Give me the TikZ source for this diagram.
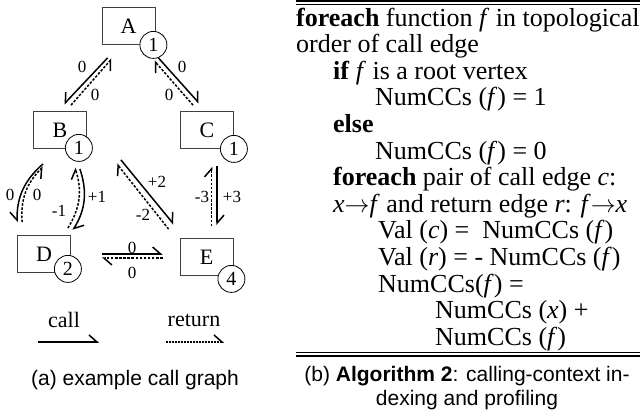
\documentclass[tikz,border=0pt]{standalone}
\usepackage{fontspec}
\setmainfont{Liberation Serif}
\setsansfont{Liberation Sans}
\usetikzlibrary{arrows.meta,calc}
\tikzset{harp/.tip={Straight Barb[harpoon,length=8pt,width=14pt]},
  harpsw/.tip={Straight Barb[harpoon,swap,length=8pt,width=14pt]}}

\begin{document}
\begin{tikzpicture}[x=1pt,y=-1pt,
  fn/.style={draw=black!75,line width=0.8pt,minimum width=53pt,minimum height=37pt,inner sep=0pt,font=\fontsize{22}{24}\selectfont},
  cnt/.style={circle,draw,fill=white,line width=0.8pt,minimum size=27pt,inner sep=0pt,font=\fontsize{20}{22}\selectfont},
  val/.style={inner sep=0pt,font=\fontsize{17}{19}\selectfont},
  calledge/.style={line width=1.5pt,-harp},
  retedge/.style={line width=1.5pt,dash pattern=on 2.5pt off 1.6pt,-harp},
  alg/.style={anchor=base west,inner sep=0pt,text height=18pt,text depth=5pt,font=\fontsize{26}{27}\selectfont},
  captext/.style={anchor=base,inner sep=0pt,font=\sffamily\fontsize{21}{24}\selectfont}]
\useasboundingbox (0,0) rectangle (640,416);

\foreach \n/\x/\y/\k/\dx/\dy in {A/128.5/26/1/-2/0,B/60/130/1/-8/-1,C/207/130/1/0/0,D/44/254/2/-3/-4,E/206.5/257/4/-2/3}{
  \node[fn] (\n) at (\x,\y) {\n};
  \node[cnt] (c\n) at ([shift={(\dx,\dy)}]\n.south east) {\k};
}

\draw[calledge,-harpsw] ([shift={(6,13)}]A.south west) -- ([shift={(4,-7)}]B.north);
\draw[retedge,-harpsw] ([shift={(11,-6)}]B.north) -- ([shift={(10,14)}]A.south west);
\draw[calledge] ([shift={(3,13)}]A.south east) -- ([shift={(-8,-8)}]C.north);
\draw[retedge] ([shift={(-14,-6)}]C.north) -- ([shift={(-1,16)}]A.south east);
\draw[calledge,-harpsw] ([shift={(10,15)}]B.south west) to[bend right=25] ([shift={(0,-13)}]D.north west);
\draw[retedge,-harpsw] ([shift={(5,-13)}]D.north west) to[bend left=25] ([shift={(10,18)}]B.south west);
\draw[calledge] ([shift={(-7,20)}]B.south east) to[bend left=25] ([shift={(2,-5)}]D.north east);
\draw[retedge] ([shift={(-3,-7)}]D.north east) to[bend right=25] ([shift={(-12,19)}]B.south east);
\draw[calledge] ([shift={(34,11)}]B.south east) -- ([shift={(-6,-14)}]E.north west);
\draw[retedge] ([shift={(-11,-9)}]E.north west) -- ([shift={(30,15)}]B.south east);
\draw[calledge] ([shift={(10,17)}]C.south) -- ([shift={(10.5,-13)}]E.north);
\draw[retedge] ([shift={(5,-12)}]E.north) -- ([shift={(4.5,18)}]C.south);
\draw[calledge] ([shift={(31,0)}]D.east) -- ([shift={(-17,-3)}]E.west);
\draw[retedge] ([shift={(-17,1)}]E.west) -- ([shift={(31,4)}]D.east);

\foreach \x/\y/\t [count=\i] in {82/67/0,95/95/0,182/67/0,169/95/0,10/195/0,37/195/0,97/197/+1,59/211/-1,157/182/+2,143/215/-2,202/197/-3,232/197/+3,132/248/0,132/273/0}
  \node[val] (w\i) at (\x,\y) {\t};

\node[inner sep=0pt,font=\fontsize{22}{24}\selectfont] (call) at (64,320) {call};
\node[inner sep=0pt,font=\fontsize{22}{24}\selectfont] (return) at (194,320) {return};
\coordinate (call0) at (38,342);
\coordinate (call1) at (99,342);
\coordinate (ret0) at (166,342);
\coordinate (ret1) at (224,342);
\draw[calledge] (call0) -- (call1);
\draw[retedge,dash pattern=on 1.5pt off 1.5pt] (ret0) -- (ret1);

\node[captext] (capa) at (135,385) {(a) example call graph};

\draw[line width=2pt] (296,1) -- (640,1);
\draw[line width=1pt] (296,4.3) -- (640,4.3);
\foreach \x/\t [count=\i from 0] in {
296/{\textbf{foreach} function \textit{f} in topological},
296/{order of call edge},
333/{\textbf{if} \textit{f} is a root vertex},
375/{NumCCs (\textit{f}) = 1},
333/{\textbf{else}},
375/{NumCCs (\textit{f}) = 0},
333/{\textbf{foreach} pair of call edge \textit{c}:},
333/{\textit{x}\smash{$\rightarrow$}\textit{f} and return edge \textit{r}: \textit{f}\smash{$\rightarrow$}\textit{x}},
378/{Val (\textit{c}) = \ NumCCs (\textit{f})},
378/{Val (\textit{r}) = - NumCCs (\textit{f})},
378/{NumCCs(\textit{f}) =},
435/{NumCCs (\textit{x}) +},
435/{NumCCs (\textit{f})}}
  \node[alg] (a\i) at (\x,{26+26.6*\i}) {\t};
\draw[line width=1pt] (296,352.5) -- (640,352.5);
\draw[line width=2.5pt] (296,356) -- (640,356);

\node[captext] (capb1) at (467,381) {(b) \textbf{Algorithm 2}: calling-context in-};
\node[captext] (capb2) at (467,405) {dexing and profiling};
\end{tikzpicture}
\end{document}
